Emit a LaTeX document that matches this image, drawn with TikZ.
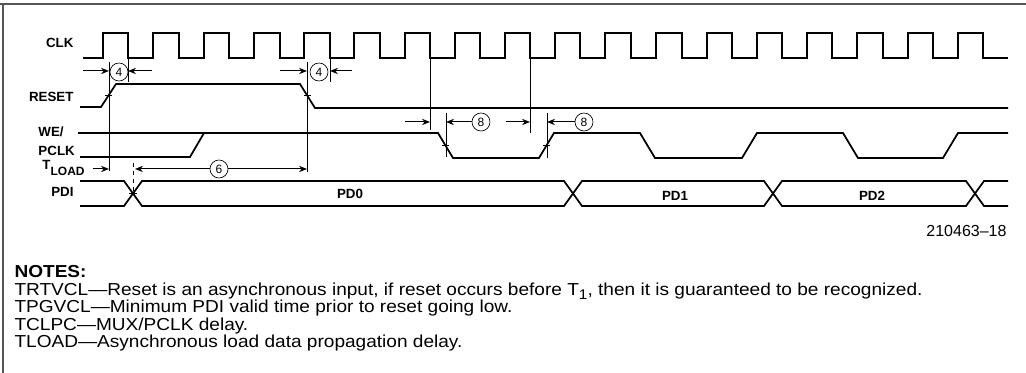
\documentclass[tikz,border=0pt]{standalone}
\usepackage{fontspec}
\setmainfont{Liberation Sans}
\newfontfamily\notefont[Ligatures=TeX, FakeStretch=1.1]{Liberation Sans}

\tikzset{every picture/.style={line width=0.75pt}}
\tikzset{
  wave/.style={line width=1.3},
  guide/.style={line width=0.7},
  sig/.style={font=\bfseries, inner sep=0pt},
  note/.style={anchor=base west, inner sep=0pt, font=\notefont\fontsize{13}{16}\selectfont},
  tag/.style={circle, draw, line width=0.5, minimum size=13.5pt, inner sep=0pt, font=\small},
  head/.style={fill=black, fill opacity=1, line width=0.08, draw opacity=0}
}

\begin{document}
\begin{tikzpicture}[x=0.75pt,y=0.75pt,yscale=-1,xscale=1]
\useasboundingbox (0,0) rectangle (1026,373);

%Frame
\draw [color={rgb, 255:red, 85; green, 85; blue, 85 }, line width=1.5] (0,4) -- (1026,4) (3,4) -- (3,373) ;

%Shape: CLK
\draw [wave] (83,58) -- (103,58) -- (103,33) -- (128,33) -- (128,58) -- (153,58) -- (153,33) -- (179,33) -- (179,58) -- (204,58) -- (204,33) -- (229,33) -- (229,58) -- (254,58) -- (254,33) -- (280,33) -- (280,58) -- (304,58) -- (304,33) -- (330,33) -- (330,58) -- (354,58) -- (354,33) -- (380,33) -- (380,58) -- (405,58) -- (405,33) -- (430,33) -- (430,58) -- (455,58) -- (455,33) -- (480,33) -- (480,58) -- (505,58) -- (505,33) -- (530,33) -- (530,58) -- (555,58) -- (555,33) -- (580,33) -- (580,58) -- (605,58) -- (605,33) -- (631,33) -- (631,58) -- (656,58) -- (656,33) -- (682,33) -- (682,58) -- (707,58) -- (707,33) -- (732,33) -- (732,58) -- (757,58) -- (757,33) -- (782,33) -- (782,58) -- (807,58) -- (807,33) -- (832,33) -- (832,58) -- (857,58) -- (857,33) -- (883,33) -- (883,58) -- (908,58) -- (908,33) -- (933,33) -- (933,58) -- (958,58) -- (958,33) -- (983,33) -- (983,58) -- (1008,58) ;

%Shape: RESET
\draw [wave] (80,107) -- (101,107) -- (116,84) -- (300,84) -- (315,108) -- (1008,108) ;
\draw (105,95.5) -- (112,95.5) (304,96) -- (311,96) ;

%Shape: WE/ PCLK
\draw [wave] (78,133) -- (438,133) -- (453,158) -- (539,158) -- (554,133) -- (640,133) -- (655,158) -- (742,158) -- (757,133) -- (843,133) -- (858,158) -- (943,158) -- (958,133) -- (1008,133) ;
\draw [wave] (80,157) -- (190,157) -- (204,133) ;
\draw (442,145.5) -- (449,145.5) (543,145.5) -- (550,145.5) ;

%Shape: PDI
\draw [wave] (80,181) -- (124,181) -- (142,206) -- (564,206) -- (582,181) -- (764,181) -- (782,206) -- (966,206) -- (984,181) -- (1008,181) ;
\draw [wave] (80,206) -- (124,206) -- (142,181) -- (564,181) -- (582,206) -- (764,206) -- (782,181) -- (966,181) -- (984,206) -- (1008,206) ;
\draw (129,193.5) -- (137,193.5) ;

%Straight Lines
\draw [guide] (109,62) -- (109,171) ;
\draw [guide] (128,58) -- (128,82) ;
\draw [guide] (307,62) -- (307,172) ;
\draw [guide] (330,58) -- (330,82) ;
\draw [guide] (430,58) -- (430,130) ;
\draw [guide] (530,58) -- (530,133) ;
\draw [guide] (446,113) -- (446,157) ;
\draw [guide] (547,113) -- (547,158) ;
\draw [guide, dashed] (133,163) -- (133,193) ;

% Circled tags
\draw (119,72) node [tag] (c4a) {4};
\draw (319,72) node [tag] (c4b) {4};
\draw (219,169) node [tag] (c6) {6};
\draw (481,122) node [tag] (c8a) {8};
\draw (584,122) node [tag] (c8b) {8};

%Straight Lines
\draw (83,71) -- (107,71) ;
\draw [shift={(109,71)}, rotate = 180] [head] (8,-3.2) -- (0,0) -- (8,3.2) -- (5.5,0) -- cycle ;
\draw (152,71) -- (130,71) ;
\draw [shift={(128,71)}, rotate = 0] [head] (8,-3.2) -- (0,0) -- (8,3.2) -- (5.5,0) -- cycle ;
%Straight Lines
\draw (280,71) -- (305,71) ;
\draw [shift={(307,71)}, rotate = 180] [head] (8,-3.2) -- (0,0) -- (8,3.2) -- (5.5,0) -- cycle ;
\draw (352,71) -- (332,71) ;
\draw [shift={(330,71)}, rotate = 0] [head] (8,-3.2) -- (0,0) -- (8,3.2) -- (5.5,0) -- cycle ;
%Straight Lines
\draw (93,169) -- (107,169) ;
\draw [shift={(109,169)}, rotate = 180] [head] (8,-3.2) -- (0,0) -- (8,3.2) -- (5.5,0) -- cycle ;
%Straight Lines
\draw (c6.west) -- (137,169) ;
\draw [shift={(135,169)}, rotate = 0] [head] (8,-3.2) -- (0,0) -- (8,3.2) -- (5.5,0) -- cycle ;
\draw (c6.east) -- (305,169) ;
\draw [shift={(307,169)}, rotate = 180] [head] (8,-3.2) -- (0,0) -- (8,3.2) -- (5.5,0) -- cycle ;
%Straight Lines
\draw (405,122) -- (428,122) ;
\draw [shift={(430,122)}, rotate = 180] [head] (8,-3.2) -- (0,0) -- (8,3.2) -- (5.5,0) -- cycle ;
\draw (c8a.west) -- (448,122) ;
\draw [shift={(446,122)}, rotate = 0] [head] (8,-3.2) -- (0,0) -- (8,3.2) -- (5.5,0) -- cycle ;
%Straight Lines
\draw (506,122) -- (528,122) ;
\draw [shift={(530,122)}, rotate = 180] [head] (8,-3.2) -- (0,0) -- (8,3.2) -- (5.5,0) -- cycle ;
\draw (c8b.west) -- (549,122) ;
\draw [shift={(547,122)}, rotate = 0] [head] (8,-3.2) -- (0,0) -- (8,3.2) -- (5.5,0) -- cycle ;

% Text Node
\draw (74,48) node [sig, anchor=base east] (clk) {CLK};
% Text Node
\draw (74,102) node [sig, anchor=base east] (reset) {RESET};
% Text Node
\draw (38,137) node [sig, anchor=base west] (we) {WE/};
% Text Node
\draw (38,156) node [sig, anchor=base west] (pclk) {PCLK};
% Text Node
\draw (42,170) node [sig, anchor=base west] (tload) {T\raisebox{-0.8ex}{\small LOAD}};
% Text Node
\draw (74,197) node [sig, anchor=base east] (pdi) {PDI};
% Text Node
\draw (350,199) node [sig, anchor=base] (pd0) {PD0};
% Text Node
\draw (675,201) node [sig, anchor=base] (pd1) {PD1};
% Text Node
\draw (872,201) node [sig, anchor=base] (pd2) {PD2};
% Text Node
\draw (1007,237) node [anchor=base east][inner sep=0pt, font=\large] (fig) {210463--18};

% Text Node
\draw (14,278) node [note, font=\notefont\fontsize{13}{16}\selectfont\bfseries] (notes) {NOTES:};
% Text Node
\draw (14,295.5) node [note] (n1) {TRTVCL---Reset is an asynchronous input, if reset occurs before T\raisebox{-0.4ex}{\fontsize{10.5}{12}\selectfont 1}, then it is guaranteed to be recognized.};
% Text Node
\draw (14,313) node [note] (n2) {TPGVCL---Minimum PDI valid time prior to reset going low.};
% Text Node
\draw (14,330.5) node [note] (n3) {TCLPC---MUX/PCLK delay.};
% Text Node
\draw (14,348) node [note] (n4) {TLOAD---Asynchronous load data propagation delay.};

\end{tikzpicture}
\end{document}
